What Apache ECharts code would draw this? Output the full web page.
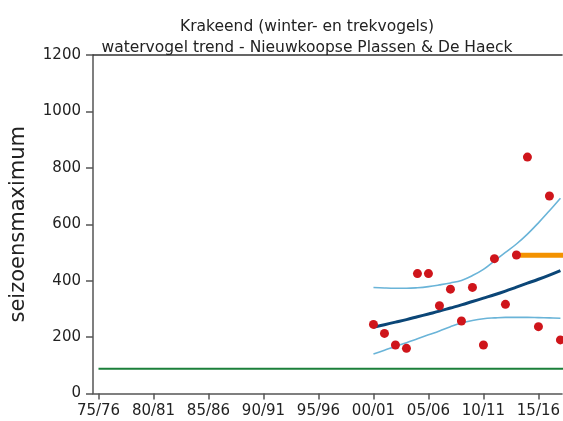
<!DOCTYPE html>
<html>
<head>
<meta charset="utf-8">
<script src="https://cdn.jsdelivr.net/npm/echarts@6/dist/echarts.min.js"></script>
<style>
  html, body { margin: 0; padding: 0; background: #ffffff; }
  #chart { width: 563px; height: 421px; }
</style>
</head>
<body>
<div id="chart"></div>
<script>
// Chart text
const titleLines = ['Krakeend (winter- en trekvogels)', 'watervogel trend - Nieuwkoopse Plassen & De Haeck'];
const yAxisName = 'seizoensmaximum';

// Season axis: start year of each labelled season and its label
const tickSeasons = [1975, 1980, 1985, 1990, 1995, 2000, 2005, 2010, 2015];
const tickLabels = ['75/76', '80/81', '85/86', '90/91', '95/96', '00/01', '05/06', '10/11', '15/16'];

// Counted seasons (start year) and the seasonal maximum per season
const countSeasons = [2000, 2001, 2002, 2003, 2004, 2005, 2006, 2007, 2008, 2009, 2010, 2011, 2012, 2013, 2014, 2015, 2016, 2017];
const counts       = [245, 213, 172, 160, 425, 425, 311, 370, 257, 376, 172, 478, 316, 491, 838, 237, 700, 190];

// Fitted trend with its upper and lower confidence band
const trend = [235, 244, 253, 262, 272, 282, 292, 303, 314, 326, 338, 350, 363, 377, 391, 405, 420, 436];
const upper = [376, 374, 373, 373, 375, 379, 385, 392, 401, 418, 440, 470, 500, 530, 565, 605, 648, 692];
const lower = [140, 153, 167, 180, 194, 208, 222, 237, 250, 259, 265, 268, 270, 270, 270, 269, 268, 267];

// Horizontal reference levels
const referenceLevel = 490;
const referenceSeasons = [2013, 2018];
const baseLevel = 88;
const baseSeasons = [1975, 2018];

const xMin = 1974.5;
const xMax = 2017.15;

const pairs = (xs, ys) => xs.map((x, i) => [x, ys[i]]);
const flat = (xs, level) => xs.map(x => [x, level]);

const FONT = 'DejaVu Sans';
const AXIS_COLOR = '#555555';
const TEXT_COLOR = '#222222';

const chart = echarts.init(document.getElementById('chart'), null, { renderer: 'canvas' });

chart.setOption({
  animation: false,
  backgroundColor: '#ffffff',
  title: {
    text: titleLines.join('\n'),
    left: 302,
    top: 11,
    textAlign: 'center',
    textStyle: {
      fontFamily: FONT,
      fontSize: 15.5,
      fontWeight: 'normal',
      color: TEXT_COLOR,
      lineHeight: 21
    }
  },
  grid: { left: 92, right: 0, top: 55, bottom: 27.5, containLabel: false },
  xAxis: [
    {
      type: 'value',
      min: xMin,
      max: xMax,
      position: 'bottom',
      axisLine: { show: true, lineStyle: { color: AXIS_COLOR, width: 1.5 } },
      axisTick: { show: true, inside: false, length: 6, customValues: tickSeasons, lineStyle: { color: AXIS_COLOR, width: 1.5 } },
      axisLabel: {
        customValues: tickSeasons,
        formatter: v => tickLabels[tickSeasons.indexOf(Math.round(v))] || '',
        fontFamily: FONT,
        fontSize: 15,
        color: TEXT_COLOR,
        margin: 10
      },
      splitLine: { show: false }
    },
    {
      type: 'value',
      min: xMin,
      max: xMax,
      position: 'top',
      axisLine: { show: true, onZero: false, lineStyle: { color: '#333333', width: 1.5 } },
      axisTick: { show: false },
      axisLabel: { show: false },
      splitLine: { show: false }
    }
  ],
  yAxis: {
    type: 'value',
    min: 0,
    max: 1200,
    interval: 200,
    name: yAxisName,
    nameLocation: 'middle',
    nameGap: 64,
    nameRotate: 90,
    nameTextStyle: { fontFamily: FONT, fontSize: 21, color: TEXT_COLOR },
    axisLine: { show: true, lineStyle: { color: AXIS_COLOR, width: 1.5 } },
    axisTick: { show: true, inside: false, length: 7, lineStyle: { color: AXIS_COLOR, width: 1.5 } },
    axisLabel: { fontFamily: FONT, fontSize: 15, color: TEXT_COLOR, margin: 12, formatter: v => String(v) },
    splitLine: { show: false }
  },
  series: [
    {
      name: 'basis',
      type: 'line',
      data: flat(baseSeasons, baseLevel),
      symbol: 'none',
      clip: true,
      lineStyle: { color: '#1b7f3a', width: 2 },
      z: 2
    },
    {
      name: 'referentie',
      type: 'line',
      data: flat(referenceSeasons, referenceLevel),
      symbol: 'none',
      clip: true,
      lineStyle: { color: '#f39200', width: 5 },
      z: 3
    },
    {
      name: 'bovengrens',
      type: 'line',
      data: pairs(countSeasons, upper),
      smooth: 0.4,
      symbol: 'none',
      lineStyle: { color: '#6ab4d8', width: 1.6 },
      z: 3
    },
    {
      name: 'ondergrens',
      type: 'line',
      data: pairs(countSeasons, lower),
      smooth: 0.4,
      symbol: 'none',
      lineStyle: { color: '#6ab4d8', width: 1.6 },
      z: 3
    },
    {
      name: 'trend',
      type: 'line',
      data: pairs(countSeasons, trend),
      smooth: 0.4,
      symbol: 'none',
      lineStyle: { color: '#0b4677', width: 3 },
      z: 4
    },
    {
      name: 'telling',
      type: 'scatter',
      data: pairs(countSeasons, counts),
      symbol: 'circle',
      symbolSize: 9,
      itemStyle: { color: '#cf151b', opacity: 1 },
      z: 5
    }
  ]
});
</script>
</body>
</html>
